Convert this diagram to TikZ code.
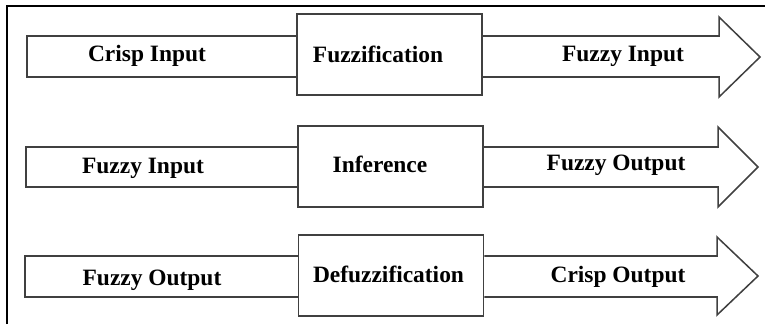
\documentclass[tikz,border=0pt]{standalone}
\usepackage{fontspec}
\setmainfont{Liberation Serif}

\begin{document}
\begin{tikzpicture}[x=0.03cm, y=-0.03cm,
  stagebox/.style={draw=black!75, line width=1.3pt, fill=white, minimum width=5.55cm, minimum height=2.43cm, inner sep=0pt},
  shaft/.style={draw=black!75, line width=1.3pt, line join=miter},
  lbl/.style={font=\fontsize{20}{24}\selectfont\bfseries, anchor=base, inner sep=0pt}]
\useasboundingbox (0,0) rectangle (765,324);
\draw[line width=1.4pt] (7,324) -- (7,6) -- (765,6);

% fuzzification
\node[stagebox] (fuzz) at (389.5,54.5) {};
\draw[shaft] (fuzz.west |- 0,36) -- (27,36) -- (27,77) -- (fuzz.west |- 0,77);
\draw[shaft] (fuzz.east |- 0,36) -- (719,36) -- (719,17) -- (760,57) -- (719,97) -- (719,77) -- (fuzz.east |- 0,77);
\node[lbl] (crispin) at (147,61) {Crisp Input};
\node[lbl] (fuzzlbl) at (378,62) {Fuzzification};
\node[lbl] (fuzzyin) at (623,61) {Fuzzy Input};

% inference
\node[stagebox] (infer) at (390.5,166.5) {};
\draw[shaft] (infer.west |- 0,147) -- (26,147) -- (26,187) -- (infer.west |- 0,187);
\draw[shaft] (infer.east |- 0,147) -- (718,147) -- (718,127) -- (758,167) -- (718,207) -- (718,187) -- (infer.east |- 0,187);
\node[lbl] (fuzzyin2) at (143,173) {Fuzzy Input};
\node[lbl] (inferlbl) at (380,172) {Inference};
\node[lbl] (fuzzyout) at (616,170) {Fuzzy Output};

% defuzzification
\node[stagebox] (defuzz) at (391,275.5) {};
\draw[shaft] (defuzz.west |- 0,256) -- (25,256) -- (25,297) -- (defuzz.west |- 0,297);
\draw[shaft] (defuzz.east |- 0,256) -- (717,256) -- (717,237) -- (758,276) -- (717,315) -- (717,297) -- (defuzz.east |- 0,297);
\node[lbl] (fuzzyout2) at (152,285) {Fuzzy Output};
\node[lbl] (defuzzlbl) at (388.5,282) {Defuzzification};
\node[lbl] (crispout) at (618,282) {Crisp Output};
\end{tikzpicture}
\end{document}
